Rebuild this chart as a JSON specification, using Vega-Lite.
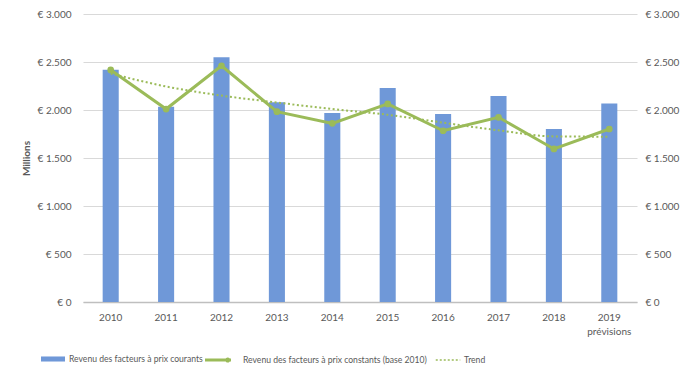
{
  "$schema": "https://vega.github.io/schema/vega-lite/v6.json",
  "autosize": {"type": "none"},
  "width": 554,
  "height": 288,
  "padding": {"left": 83, "top": 14, "right": 54, "bottom": 77},
  "background": "white",
  "config": {
    "font": "Lato",
    "view": {"stroke": null},
    "axis": {"labelColor": "#595959", "labelFont": "Lato", "labelFontSize": 10, "titleColor": "#595959", "titleFont": "Lato"},
    "legend": {"labelColor": "#595959", "labelFont": "Lato", "labelFontSize": 8.6, "labelLimit": 500}
  },
  "data": {
    "values": [
      {"annee": "2010", "courants": 2420, "constants": 2417, "trend": 2380},
      {"annee": "2011", "courants": 2035, "constants": 2010, "trend": 2245},
      {"annee": "2012", "courants": 2549, "constants": 2461, "trend": 2150},
      {"annee": "2013", "courants": 2080, "constants": 1982, "trend": 2078},
      {"annee": "2014", "courants": 1969, "constants": 1861, "trend": 2010},
      {"annee": "2015", "courants": 2229, "constants": 2063, "trend": 1950},
      {"annee": "2016", "courants": 1958, "constants": 1784, "trend": 1868},
      {"annee": "2017", "courants": 2146, "constants": 1924, "trend": 1788},
      {"annee": "2018", "courants": 1802, "constants": 1594, "trend": 1725},
      {"annee": "2019|prévisions", "courants": 2069, "constants": 1802, "trend": 1722}
    ]
  },
  "encoding": {
    "x": {
      "field": "annee",
      "type": "nominal",
      "sort": null,
      "scale": {"paddingInner": 0.71, "paddingOuter": 0.355},
      "axis": {
        "title": null,
        "labelAngle": 0,
        "labelExpr": "split(datum.value, '|')",
        "labelPadding": 10,
        "labelLineHeight": 14,
        "ticks": false,
        "domainColor": "#bfbfbf",
        "domainWidth": 1.5,
        "grid": false
      }
    }
  },
  "layer": [
    {
      "mark": {"type": "bar"},
      "encoding": {
        "y": {
          "field": "courants",
          "type": "quantitative",
          "scale": {"domain": [0, 3000]},
          "axis": {
            "title": "Millions",
            "titleFontWeight": "bold",
            "titleFontSize": 10,
            "titlePadding": 6,
            "values": [0, 500, 1000, 1500, 2000, 2500, 3000],
            "labelExpr": "'€ ' + replace(format(datum.value, ','), ',', '.')",
            "ticks": false,
            "tickSize": 0,
            "labelPadding": 12,
            "domain": false,
            "gridColor": "#d9d9d9",
            "gridWidth": 1
          }
        },
        "fill": {
          "datum": "Revenu des facteurs à prix courants",
          "scale": {"range": ["#6f98d8"]},
          "legend": {"orient": "none", "legendX": -42, "legendY": 333, "title": null, "symbolType": "M-1,-0.21H1V0.21H-1Z", "symbolSize": 576, "symbolStrokeWidth": 0, "labelOffset": 4}
        }
      }
    },
    {
      "mark": {"type": "line", "strokeWidth": 2, "strokeDash": [2, 2.5], "interpolate": "monotone"},
      "encoding": {
        "y": {"field": "trend", "type": "quantitative", "axis": null},
        "color": {
          "datum": "Trend",
          "scale": {"range": ["#9bbb59"]},
          "legend": {"orient": "none", "legendX": 352, "legendY": 333, "title": null, "symbolType": "stroke", "symbolDash": [2, 2], "symbolStrokeWidth": 1.5, "symbolSize": 600, "labelOffset": 3}
        }
      }
    },
    {
      "mark": {"type": "line", "strokeWidth": 3},
      "encoding": {
        "y": {"field": "constants", "type": "quantitative", "axis": null},
        "stroke": {
          "datum": "Revenu des facteurs à prix constants (base 2010)",
          "scale": {"range": ["#9bbb59"]},
          "legend": {"orient": "none", "legendX": 122, "legendY": 333, "title": null, "symbolType": "M-1,-0.12H1V0.12H-1Z M0.55,0A0.2,0.2 0 1,1 0.95,0A0.2,0.2 0 1,1 0.55,0Z", "symbolSize": 676, "symbolStrokeWidth": 0, "symbolFillColor": "#9bbb59", "labelOffset": 12}
        }
      }
    },
    {
      "mark": {"type": "point", "filled": true, "size": 45, "opacity": 1, "color": "#9bbb59"},
      "encoding": {
        "y": {
          "field": "constants",
          "type": "quantitative",
          "axis": {
            "orient": "right",
            "title": null,
            "values": [0, 500, 1000, 1500, 2000, 2500, 3000],
            "labelExpr": "'€ ' + replace(format(datum.value, ','), ',', '.')",
            "ticks": false,
            "tickSize": 0,
            "labelPadding": 8,
            "domain": false,
            "grid": false
          }
        }
      }
    }
  ],
  "resolve": {"scale": {"y": "shared"}, "axis": {"y": "independent"}}
}
